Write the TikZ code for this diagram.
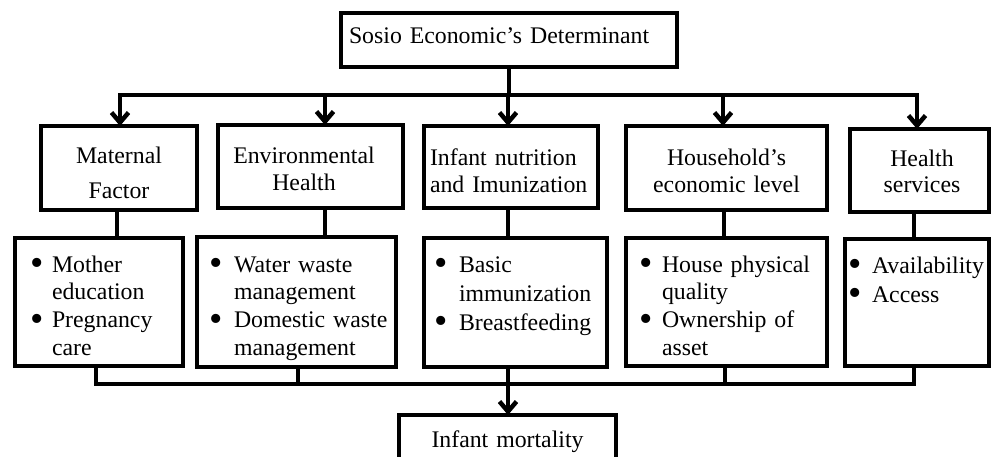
\documentclass[tikz,border=0pt]{standalone}
\usepackage{fontspec}
\setmainfont{Liberation Serif}
\usetikzlibrary{arrows.meta,calc}
\newcommand{\bdot}{\smash{\raisebox{-3.7pt}{\scalebox{1.6}{•}}}}
\newcommand{\bul}[3]{\mbox{\hspace*{#1pt}\makebox[0pt]{\bdot}\hspace*{\dimexpr#2pt-#1pt\relax}#3}}
\newcommand{\cnt}[2]{\mbox{\hspace*{#1pt}#2}}
\begin{document}
\begin{tikzpicture}[x=1pt,y=-1pt,
  box/.style={draw, line width=4.5pt, inner sep=0pt, outer sep=0pt, anchor=north west,
    font=\fontsize{23.8}{27}\selectfont},
  lvlthree/.style={box, align=left, font=\fontsize{23.8}{27.7}\selectfont},
  conn/.style={line width=4.5pt},
  arr/.style={conn, -{Straight Barb[length=10pt,width=17pt]}}]
\clip (0,0) rectangle (992,457);
\fill[white] (0,0) rectangle (992,457);

% level 1
\node[box, align=left, text width=336pt, text height=31pt, text depth=23pt] (top) at (341,13)
  {\cnt{8}{Sosio Economic’s Determinant}};

% level 2
\node[box, align=center, text width=156pt, text height=38pt, text depth=46pt] (mat2) at (41,126)
  {Maternal\\[8pt]Factor};
\node[box, align=center, text width=185pt, text height=39pt, text depth=44pt] (env2) at (218,125)
  {\mbox{Environmental\hspace{13pt}}\\\mbox{Health\hspace{13pt}}};
\node[box, align=left, text width=174pt, text height=39pt, text depth=43pt] (inf2) at (424,126)
  {\cnt{6}{Infant nutrition}\\\cnt{6}{and Imunization}};
\node[box, align=center, text width=201pt, text height=39pt, text depth=45pt] (hh2) at (626,126)
  {Household’s\\economic level};
\node[box, align=center, text width=139pt, text height=38pt, text depth=45pt] (hs2) at (850,129)
  {\mbox{\hspace{5pt}Health}\\[-2pt]\mbox{\hspace{5pt}services}};

% level 3
\node[lvlthree, text width=168pt, text height=34pt, text depth=94pt] (mat3) at (15,238)
  {\bul{22}{37}{Mother}\\\cnt{37}{education}\\\bul{22}{37}{Pregnancy}\\\cnt{37}{care}};
\node[lvlthree, text width=199pt, text height=35pt, text depth=95pt] (env3) at (197,237)
  {\bul{19}{37}{Water waste}\\\cnt{37}{management}\\\bul{19}{37}{Domestic waste}\\\cnt{37}{management}};
\node[lvlthree, text width=183pt, text height=34pt, text depth=95pt] (inf3) at (424,238)
  {\bul{17}{35}{Basic}\\[1.3pt]\cnt{35}{immunization}\\[1.3pt]\bul{17}{35}{Breastfeeding}};
\node[lvlthree, text width=201pt, text height=34pt, text depth=94pt] (hh3) at (626,238)
  {\bul{20}{36}{House physical}\\\cnt{36}{quality}\\\bul{20}{36}{Ownership of}\\\cnt{36}{asset}};
\node[lvlthree, text width=144pt, text height=34pt, text depth=93pt] (hs3) at (845,239)
  {\bul{10}{27}{Availability}\\[1.3pt]\bul{10}{27}{Access}};

% bottom
\node[box, align=center, text width=217pt, text height=32pt, text depth=55pt] (mort) at (399,415)
  {Infant mortality};

% top bus
\coordinate (busT) at (509,95);
\coordinate (d1) at (120,95);
\coordinate (d2) at (325,95);
\coordinate (d3) at (508,95);
\coordinate (d4) at (723,95);
\coordinate (d5) at (917,95);
\draw[conn] (top.south) -- (busT);
\draw[conn, line cap=rect] (d1) -- (d5);
\draw[arr] (d1) -- (d1 |- mat2.north);
\draw[arr] (d2) -- (d2 |- env2.north);
\draw[arr] (d3) -- (d3 |- inf2.north);
\draw[arr] (d4) -- (d4 |- hh2.north);
\draw[arr] (d5) -- (d5 |- hs2.north);

% level 2 -> level 3
\draw[conn] (mat2.south -| 117,0) -- (mat3.north -| 117,0);
\draw[conn] (env2.south -| 325,0) -- (env3.north -| 325,0);
\draw[conn] (inf2.south -| 508,0) -- (inf3.north -| 508,0);
\draw[conn] (hh2.south -| 724,0) -- (hh3.north -| 724,0);
\draw[conn] (hs2.south -| 914,0) -- (hs3.north -| 914,0);

% bottom bus
\coordinate (busB) at (508,384);
\draw[conn] (mat3.south -| 96,0) -- (busB -| 96,0);
\draw[conn] (env3.south -| 298,0) -- (busB -| 298,0);
\draw[conn] (hh3.south -| 725,0) -- (busB -| 725,0);
\draw[conn] (hs3.south -| 914,0) -- (busB -| 914,0);
\draw[conn, line cap=rect] (busB -| 96,0) -- (busB -| 914,0);
\draw[arr] (inf3.south -| 508,0) -- (mort.north -| 508,0);
\end{tikzpicture}
\end{document}
